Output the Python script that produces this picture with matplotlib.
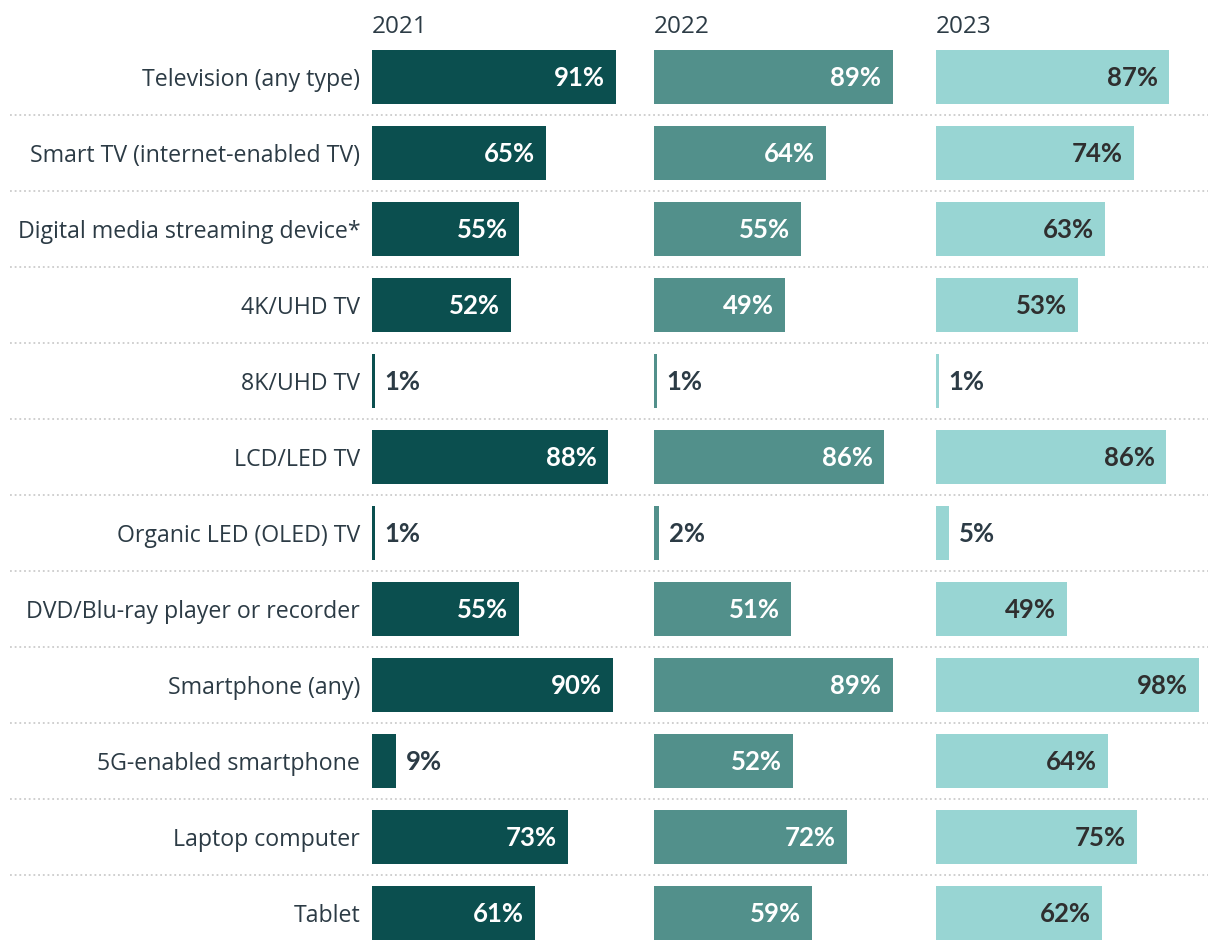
import matplotlib
matplotlib.use("Agg")
import matplotlib.pyplot as plt

categories = [
    "Television (any type)",
    "Smart TV (internet-enabled TV)",
    "Digital media streaming device*",
    "4K/UHD TV",
    "8K/UHD TV",
    "LCD/LED TV",
    "Organic LED (OLED) TV",
    "DVD/Blu-ray player or recorder",
    "Smartphone (any)",
    "5G-enabled smartphone",
    "Laptop computer",
    "Tablet",
]
years = ["2021", "2022", "2023"]
values_2021 = [91, 65, 55, 52, 1, 88, 1, 55, 90, 9, 73, 61]
values_2022 = [89, 64, 55, 49, 1, 86, 2, 51, 89, 52, 72, 59]
values_2023 = [87, 74, 63, 53, 1, 86, 5, 49, 98, 64, 75, 62]
series = [values_2021, values_2022, values_2023]

colors = ["#0b4f4f", "#52908b", "#98d5d3"]
inside_text = ["white", "white", "#2f2f2f"]
label_color = "#2c3b45"

W, H = 1220, 950
fig = plt.figure(figsize=(W / 100, H / 100), dpi=100)

n = len(categories)
pitch = 76
top = 39
ax_h = n * pitch

def fx(px):
    return px / W

def fy_bottom(px_top, px_h):
    return 1 - (px_top + px_h) / H

# background axes for separators
bg = fig.add_axes([fx(10), fy_bottom(top, ax_h), fx(1198), ax_h / H])
bg.set_xlim(0, 1)
bg.set_ylim(n - 0.5, -0.5)
bg.axis("off")
for i in range(n - 1):
    bg.axhline(i + 0.5, color="#cccccc", lw=1.3, ls=(0, (1, 1.6)))

panel_left = [372, 654, 936]
panel_w = 268
for k in range(3):
    ax = fig.add_axes([fx(panel_left[k]), fy_bottom(top, ax_h), fx(panel_w), ax_h / H])
    ax.set_xlim(0, 100)
    ax.set_ylim(n - 0.5, -0.5)
    ax.patch.set_alpha(0)
    for s in ax.spines.values():
        s.set_visible(False)
    ax.barh(range(n), series[k], height=0.71, color=colors[k], left=0)
    ax.set_xticks([])
    if k == 0:
        ax.set_yticks(range(n))
        ax.set_yticklabels(categories, fontsize=16.7, color=label_color, family=["Open Sans", "DejaVu Sans"])
        ax.tick_params(axis="y", length=0, pad=8.5)
    else:
        ax.set_yticks([])
    for i, v in enumerate(series[k]):
        if v >= 15:
            ax.annotate(f"{v}%", (v, i), xytext=(-8, -1), textcoords="offset points",
                        ha="right", va="center", fontsize=18.5, fontweight="bold",
                        color=inside_text[k], family=["Lato", "DejaVu Sans"])
        else:
            ax.annotate(f"{v}%", (v, i), xytext=(7, -1), textcoords="offset points",
                        ha="left", va="center", fontsize=18.5, fontweight="bold",
                        color="#2c3b45", family=["Lato", "DejaVu Sans"])
    ax.text(0, -0.5 - 12 / pitch, years[k], ha="left", va="center", fontsize=17.5,
            color=label_color, family=["Open Sans", "DejaVu Sans"], clip_on=False)

fig.savefig("out.png", dpi=100, facecolor="white")
